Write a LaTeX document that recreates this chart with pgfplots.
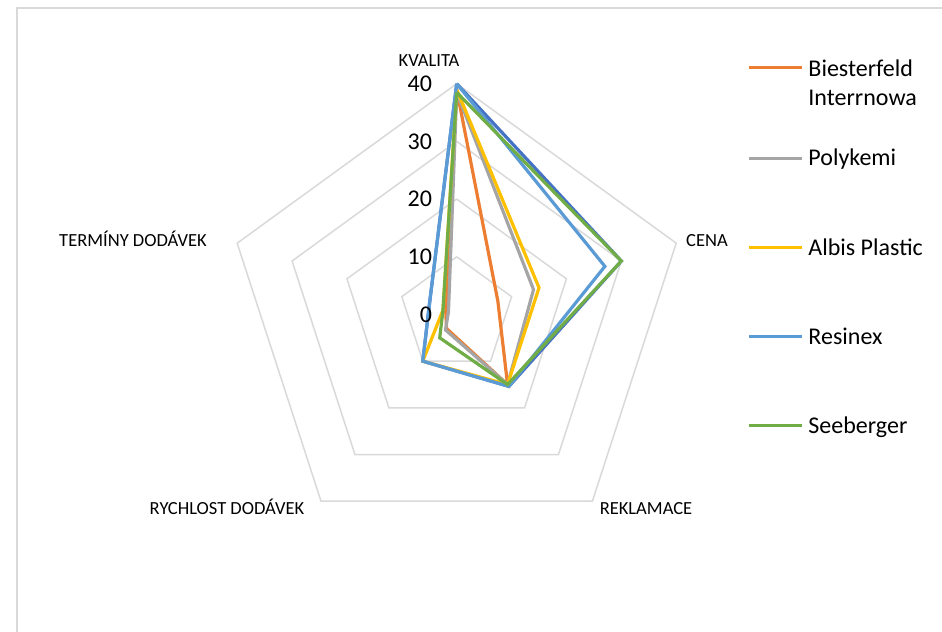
\documentclass[border=0pt]{standalone}
\usepackage{fontspec}
\setmainfont{Carlito}
\usepackage{pgfplots}
\usepgfplotslibrary{polar}
\pgfplotsset{compat=1.18}

\definecolor{sDark}{HTML}{4472C4}
\definecolor{sOrange}{HTML}{ED7D31}
\definecolor{sGray}{HTML}{A5A5A5}
\definecolor{sYellow}{HTML}{FFC000}
\definecolor{sBlue}{HTML}{5B9BD5}
\definecolor{sGreen}{HTML}{70AD47}
\definecolor{gridc}{HTML}{D9D9D9}

% two-line legend cell, baseline on the first line
\newcommand\legcell[2]{\parbox[t]{5cm}{\strut #1\\#2\strut}}

\begin{document}
\begin{tikzpicture}[x=1bp,y=1bp]
\begin{polaraxis}[
  scale only axis, width=461.6bp, height=461.6bp,
  xmin=0, xmax=360, ymin=0, ymax=40,
  hide axis, clip=false,
  legend cell align=left,
  legend style={draw=none, fill=none, at={(1.129,1.0596)}, anchor=north west,
    font=\fontsize{24bp}{29bp}\selectfont, row sep=71bp, column sep=5bp,
    inner sep=0pt, nodes={inner sep=0pt}},
  legend image code/.code={\draw[#1] (0bp,0bp) -- (53bp,0bp);},
  every axis plot/.append style={line width=3.2bp, line join=miter},
]
\coordinate (C) at (axis cs:0,0);
% pentagonal grid
\pgfplotsinvokeforeach{10,20,30,40}{
  \addplot[gridc, line width=1.5bp, forget plot] coordinates
    {(90,#1) (18,#1) (-54,#1) (-126,#1) (162,#1) (90,#1)};
}
% axes order: KVALITA, CENA, REKLAMACE, RYCHLOST DODAVEK, TERMINY DODAVEK
\addplot[sDark, forget plot] coordinates {(90,40) (18,30) (-54,15.4) (-126,10) (162,5) (90,40)};
\addplot[sOrange] coordinates {(90,39) (18,7.5) (-54,15) (-126,3) (162,2) (90,39)};
\addlegendentry{\legcell{Biesterfeld}{Interrnowa}}
\addplot[sGray] coordinates {(90,38.5) (18,14) (-54,15) (-126,3.3) (162,1.5) (90,38.5)};
\addlegendentry{Polykemi}
\addplot[sYellow] coordinates {(90,39) (18,15) (-54,15) (-126,10) (162,2.5) (90,39)};
\addlegendentry{Albis Plastic}
\addplot[sBlue] coordinates {(90,40) (18,27) (-54,15.4) (-126,10) (162,5) (90,40)};
\addlegendentry{Resinex}
\addplot[sGreen] coordinates {(90,38.5) (18,30) (-54,15) (-126,5) (162,2.5) (90,38.5)};
\addlegendentry{Seeberger}

% radial scale labels
\pgfplotsinvokeforeach{0,10,20,30,40}{
  \node[anchor=east, inner sep=0pt, font=\fontsize{24bp}{28bp}\selectfont]
    at (axis cs:90,#1) [xshift=-24.5bp] {#1};
}
\end{polaraxis}

% page frame and category labels, placed relative to the chart centre
\pgfresetboundingbox
\begin{scope}[shift={(C)}]
\useasboundingbox (-456.7,-317.5) rectangle (485.3,314.5);
\draw[gridc, line width=1.2bp] (-439.7,-330) -- (-439.7,306.5) -- (500,306.5);
\begin{scope}[every node/.style={anchor=base, inner sep=0pt, font=\fontsize{18.5bp}{22bp}\selectfont}]
\node at (-27.7,247.5) {KVALITA};
\node at (250.3,67.5) {CENA};
\node at (189.3,-200.5) {REKLAMACE};
\node at (-229.7,-200.5) {RYCHLOST DODÁVEK};
\node at (-323.7,67.5) {TERMÍNY DODÁVEK};
\end{scope}
\end{scope}
\end{tikzpicture}
\end{document}
